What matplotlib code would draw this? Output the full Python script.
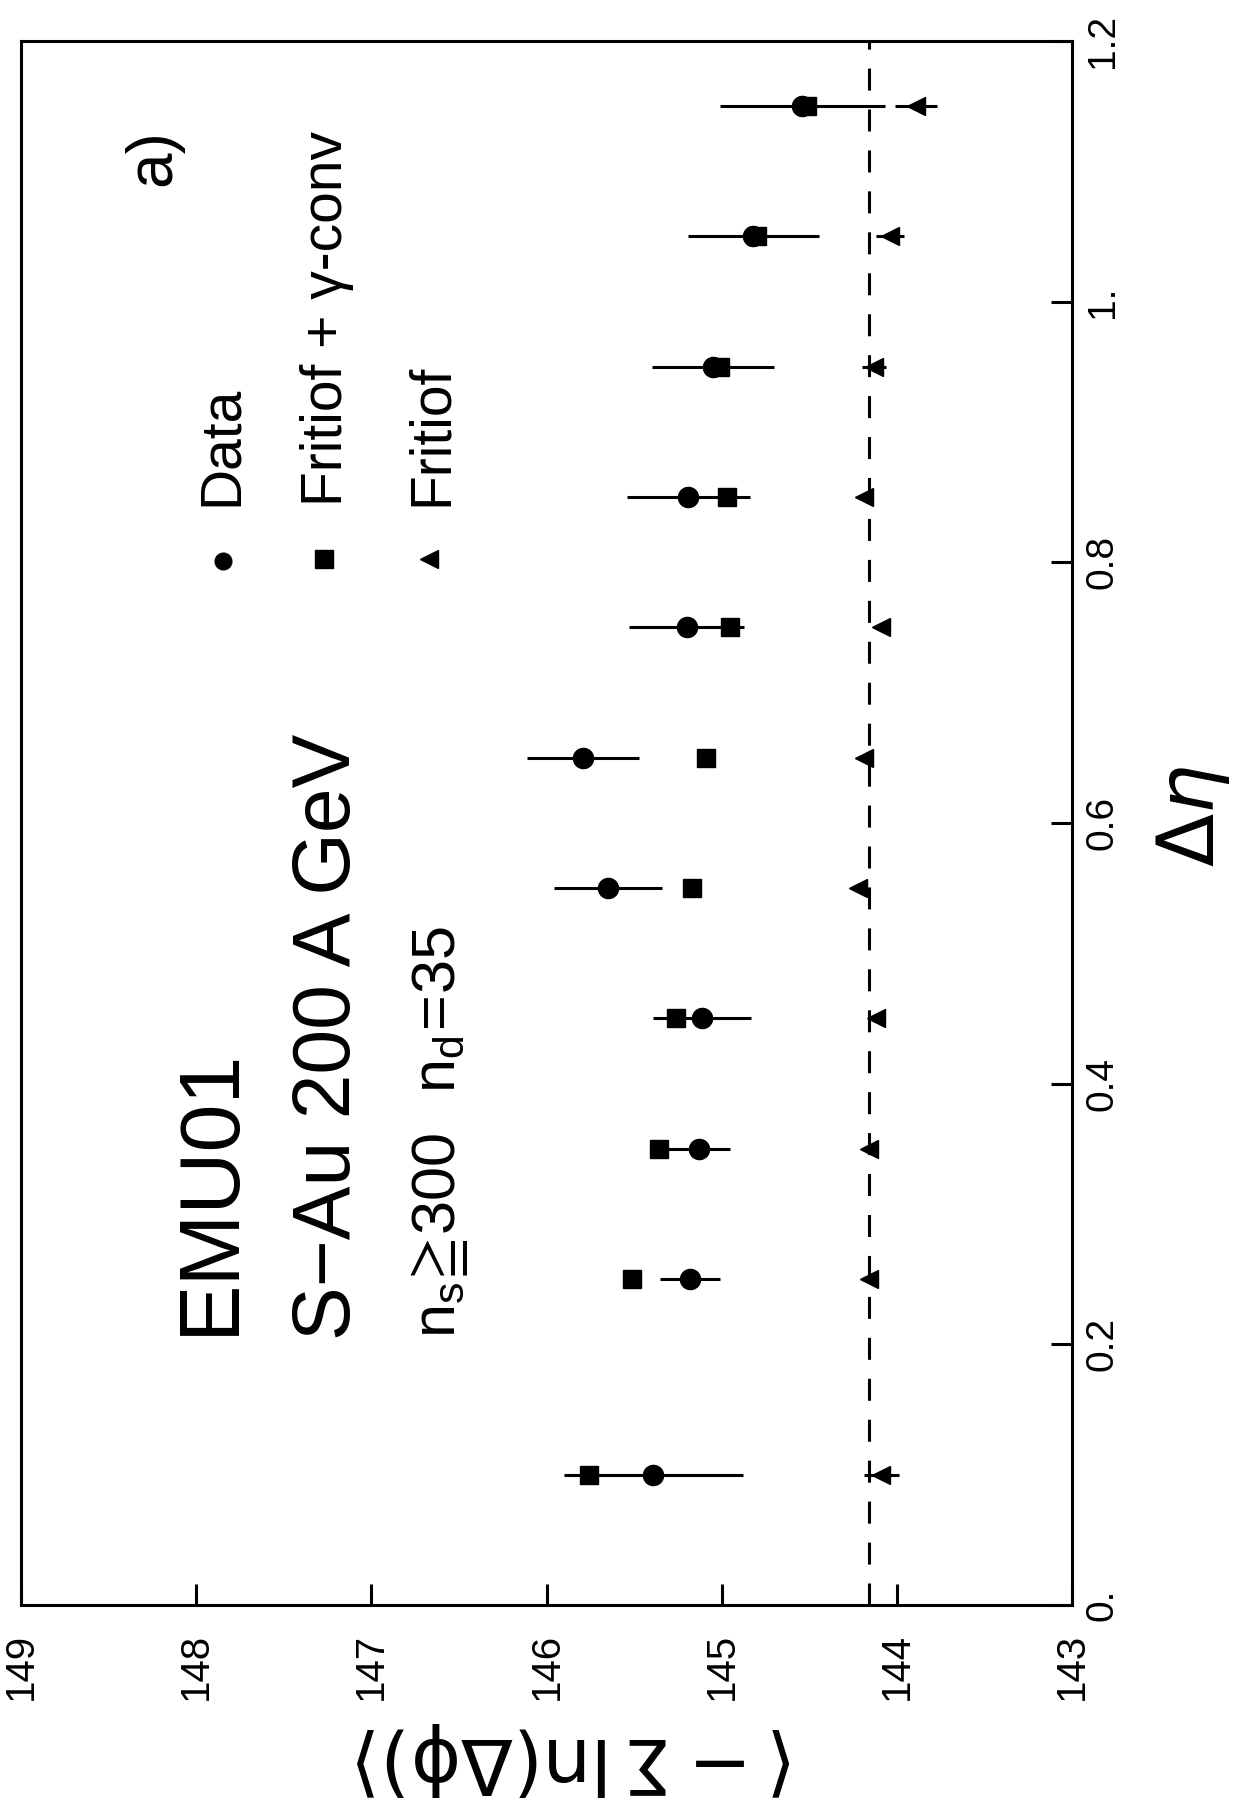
import matplotlib
matplotlib.use('Agg')
import matplotlib.pyplot as plt

plt.rcParams['font.family'] = ['Liberation Sans', 'DejaVu Sans']
plt.rcParams['mathtext.fontset'] = 'dejavusans'

# ---- data ----
deta = [0.10, 0.25, 0.35, 0.45, 0.55, 0.65, 0.75, 0.85, 0.95, 1.05, 1.15]
data_val = [145.39, 145.18, 145.13, 145.11, 145.65, 145.79, 145.20, 145.19, 145.05, 144.82, 144.54]
data_err = [0.51, 0.17, 0.18, 0.28, 0.31, 0.32, 0.33, 0.35, 0.35, 0.375, 0.47]
fgc_val = [145.76, 145.51, 145.36, 145.26, 145.17, 145.09, 144.95, 144.97, 145.01, 144.80, 144.51]
frit_val = [144.09, 144.16, 144.16, 144.12, 144.22, 144.19, 144.09, 144.19, 144.13, 144.04, 143.89]
frit_err = [0.10, 0.04, 0.04, 0.04, 0.04, 0.04, 0.04, 0.04, 0.07, 0.08, 0.12]
frit_level = 144.16

xticks = [149, 148, 147, 146, 145, 144, 143]
xticklabels = ['149', '148', '147', '146', '145', '144', '143']
yticks = [0.0, 0.2, 0.4, 0.6, 0.8, 1.0, 1.2]
yticklabels = ['0.', '0.2', '0.4', '0.6', '0.8', '1.', '1.2']

W, H = 1239, 1813
fig = plt.figure(figsize=(W / 100, H / 100), dpi=100)
L, R, T, B = 21, 1072, 41, 1605
ax = fig.add_axes([L / W, 1 - B / H, (R - L) / W, (B - T) / H])

lw = 2.2
ax.axvline(frit_level, color='k', lw=lw, linestyle=(0, (7.2, 6.2)), zorder=1)
ax.errorbar(data_val, deta, xerr=data_err, fmt='o', color='k', ms=14.5,
            elinewidth=lw, capsize=0, zorder=3)
ax.plot(fgc_val, deta, 's', color='k', ms=13.5, zorder=4)
ax.errorbar(frit_val, deta, xerr=frit_err, fmt='<', color='k', ms=13.5,
            elinewidth=lw, capsize=0, zorder=3)

ax.set_xlim(149, 143)
ax.set_ylim(0, 1.2)
ax.set_xticks(xticks)
ax.set_xticklabels(xticklabels, rotation=90, fontsize=29)
ax.tick_params(axis='x', direction='in', length=15, width=lw, pad=20,
               bottom=True, top=False)
ax.yaxis.tick_right()
ax.set_yticks(yticks)
ax.set_yticklabels(yticklabels, rotation=90, va='center', fontsize=28)
ax.tick_params(axis='y', direction='in', length=15, width=lw, pad=9,
               right=True, left=False)
for s in ax.spines.values():
    s.set_linewidth(lw)

# axis labels (the figure is printed rotated)
ax.set_xlabel(r'$\langle -\Sigma\,\ln(\Delta\mathrm{\phi})\rangle$', fontsize=55)
ax.xaxis.label.set_rotation(180)
ax.xaxis.label.set_rotation_mode('anchor')
ax.xaxis.label.set_ha('left')
ax.xaxis.label.set_va('baseline')
ax.xaxis.set_label_coords((797 - L) / (R - L), (B - 1738) / (B - T))

ax.yaxis.set_label_position('right')
ax.set_ylabel(r'$\Delta\eta$', fontsize=56)
ax.yaxis.label.set_rotation(90)
ax.yaxis.label.set_rotation_mode('anchor')
ax.yaxis.label.set_ha('left')
ax.yaxis.label.set_va('baseline')
ax.yaxis.set_label_coords((1214 - L) / (R - L), (B - 867) / (B - T))


def px(x, y):
    return (x - L) / (R - L), (B - y) / (B - T)


def rtext(x, y, s, size):
    ax.text(*px(x, y), s, transform=ax.transAxes, rotation=90,
            rotation_mode='anchor', ha='left', va='baseline', fontsize=size)


rtext(233, 1335, 'EMU01', 62)
rtext(350, 1340, 'S\u2212Au 200 A GeV', 58)
rtext(455, 1338, r'$\mathregular{n_s\!\geqq\!300\ \ n_d\!=\!35}$', 44)

# legend
rtext(237, 506, 'Data', 41)
rtext(342, 506, 'Fritiof + \u03b3-conv', 41)
rtext(447, 506, 'Fritiof', 41)
for (mx, my), mk, ms in [((223, 561), 'o', 12), ((324, 559), 's', 12.5),
                         ((429, 559), '<', 12.5)]:
    ax.plot(*px(mx, my), mk, color='k', ms=ms, transform=ax.transAxes,
            clip_on=False)
rtext(170, 186, 'a)', 46)

fig.savefig('out.png', dpi=100, facecolor='white')
